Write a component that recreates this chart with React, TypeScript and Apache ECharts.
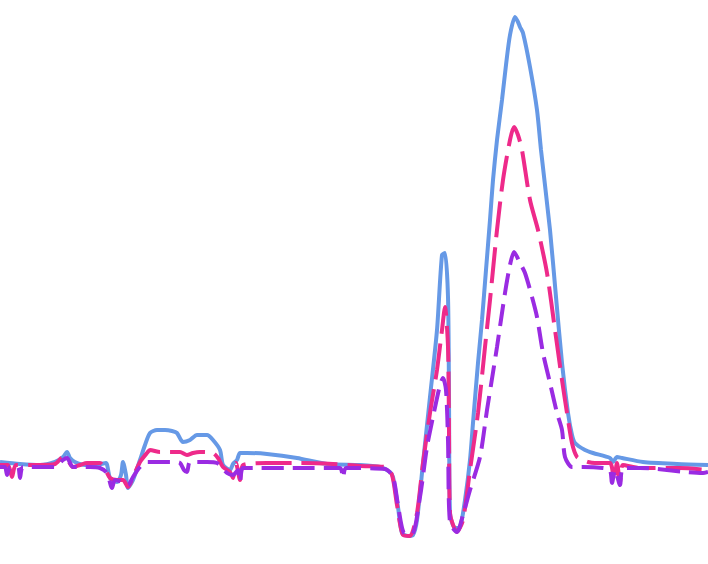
import React, { useEffect, useRef } from "react";
import * as echarts from "echarts";

// Sample positions (x) and amplitudes (y), baseline = 0
const blueX = [0, 20, 40, 55, 63, 67, 70, 75, 85, 100, 106, 110, 117, 121, 123, 126, 128, 133, 140, 145, 150, 157, 165, 172, 177, 183, 190, 197, 207, 213, 220, 223, 230, 233, 237, 240, 247, 267, 297, 327, 360, 380, 390, 393, 398, 402, 408, 413, 417, 423, 430, 437, 442, 445, 448, 449, 450, 455, 460, 465, 470, 473, 478, 482, 486, 490, 493, 497, 502, 506, 510, 515, 518, 520, 523, 530, 537, 541, 550, 556, 562, 568, 572, 575, 585, 593, 610, 613, 617, 622, 643, 677, 708];
const blueY = [3, 1, 0, 3, 8, 13, 7, 3, 0, 1, 2, -13, -17, -10, 3, -10, -23, -15, 5, 20, 32, 35, 35, 34, 32, 23, 25, 30, 30, 25, 15, 0, -5, 1, 5, 12, 12, 11, 7, 1, 0, -2, -7, -12, -42, -68, -71, -70, -55, 2, 68, 135, 210, 212, 168, 68, -48, -63, -62, -35, 5, 42, 102, 145, 195, 245, 285, 325, 365, 400, 430, 448, 443, 438, 432, 398, 355, 315, 235, 168, 102, 52, 30, 22, 15, 12, 7, 3, 8, 7, 3, 1, 0];

const pinkX = [0, 8, 12, 16, 40, 55, 63, 67, 73, 80, 87, 100, 104, 110, 117, 123, 128, 133, 140, 147, 150, 160, 170, 180, 187, 193, 200, 213, 218, 223, 230, 233, 236, 240, 243, 267, 300, 333, 360, 385, 392, 397, 403, 410, 417, 423, 430, 437, 442, 445, 448, 449, 450, 457, 463, 470, 478, 485, 490, 497, 503, 510, 514, 518, 522, 530, 538, 547, 555, 562, 567, 572, 577, 583, 588, 595, 610, 614, 617, 620, 623, 640, 680, 708];
const pinkY = [0, 0, -12, 0, 0, 1, 8, 6, -2, 0, 2, 2, -2, -13, -15, -15, -22, -12, 3, 12, 15, 13, 13, 13, 10, 12, 13, 12, 7, -2, -7, -13, 2, -15, 0, 2, 2, 1, -1, -2, -10, -40, -70, -71, -48, 2, 52, 95, 135, 158, 118, 35, -48, -67, -55, -5, 52, 118, 165, 235, 285, 325, 338, 330, 315, 265, 235, 192, 135, 85, 52, 22, 8, 5, 3, 2, 2, -15, 2, -17, 0, -3, -3, -5];

const purpleX = [0, 5, 7, 10, 18, 20, 23, 55, 63, 67, 73, 90, 100, 107, 112, 115, 122, 128, 133, 140, 147, 163, 175, 180, 184, 187, 190, 207, 217, 227, 233, 238, 240, 243, 260, 300, 340, 343, 346, 385, 393, 398, 404, 412, 420, 427, 433, 440, 443, 446, 448, 450, 457, 463, 470, 480, 487, 491, 497, 505, 510, 514, 520, 525, 532, 537, 543, 550, 557, 562, 565, 572, 583, 603, 610, 612, 615, 620, 623, 640, 703, 708];
const purpleY = [-2, -2, -10, -2, -2, -13, -2, -2, 5, 7, -2, -2, -3, -8, -23, -15, -17, -20, -12, -2, 3, 3, 3, 2, -5, -7, 3, 3, 2, -8, -10, -5, -17, -3, -3, -3, -3, -13, -3, -4, -12, -40, -68, -69, -32, 18, 48, 80, 87, 75, 25, -58, -67, -50, -25, 8, 55, 80, 118, 172, 200, 213, 202, 192, 168, 148, 112, 82, 52, 35, 8, -2, -2, -3, -5, -18, -5, -20, -3, -3, -8, -7];

const pairs = (xs: number[], ys: number[]) => xs.map((x, i) => [x, ys[i]]);

export default function App() {
  const ref = useRef<HTMLDivElement>(null);
  useEffect(() => {
    if (!ref.current) return;
    const chart = echarts.init(ref.current, null, { renderer: "svg" });
    chart.setOption({
      animation: false,
      backgroundColor: "#ffffff",
      grid: { left: 0, right: 0, top: 0, bottom: 0 },
      xAxis: { type: "value", min: 0, max: 708, show: false },
      yAxis: { type: "value", min: -99, max: 465, show: false },
      series: [
        {
          type: "line",
          data: pairs(blueX, blueY),
          showSymbol: false,
          smooth: 0.25,
          lineStyle: { color: "#6699E6", width: 4 },
        },
        {
          type: "line",
          data: pairs(pinkX, pinkY),
          showSymbol: false,
          smooth: 0.25,
          lineStyle: { color: "#EE2A8A", width: 4, type: [36, 10] },
        },
        {
          type: "line",
          data: pairs(purpleX, purpleY),
          showSymbol: false,
          smooth: 0.25,
          lineStyle: { color: "#9A2BE2", width: 4, type: [22, 9] },
        },
      ],
    });
    return () => chart.dispose();
  }, []);
  return (
    <div
      ref={ref}
      style={{ position: "absolute", left: 0, top: 0, width: 708, height: 564 }}
    />
  );
}
